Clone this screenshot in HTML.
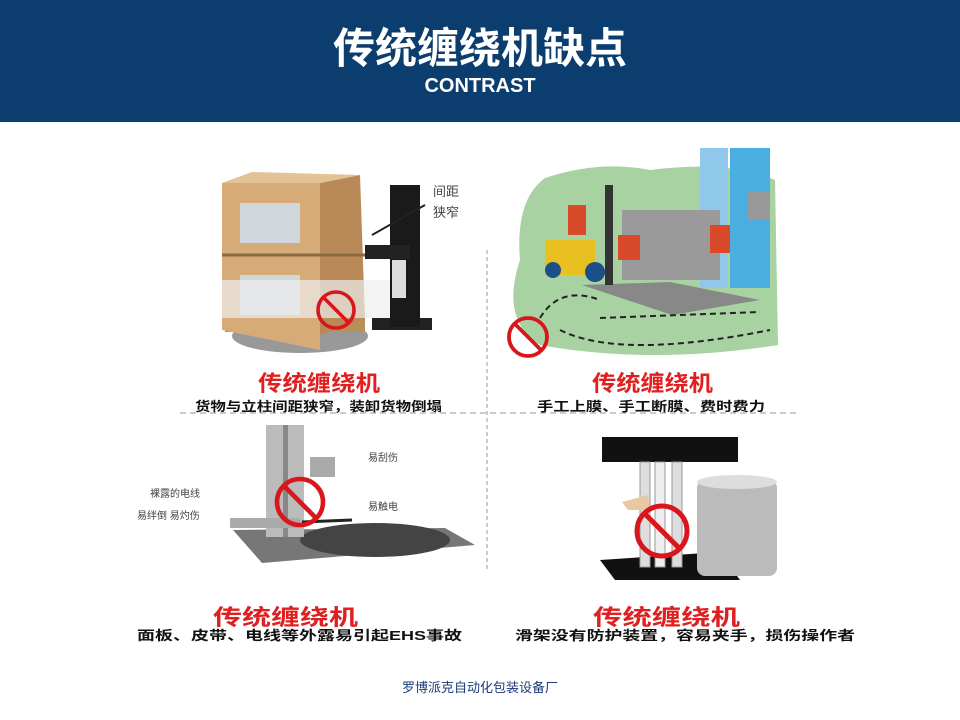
<!DOCTYPE html>
<html><head><meta charset="utf-8"><style>
html,body{margin:0;padding:0;background:#fff;}
body{width:960px;height:720px;position:relative;overflow:hidden;font-family:"Liberation Sans","Noto Sans CJK SC",sans-serif;}
.hdr{position:absolute;left:0;top:0;width:960px;height:122px;background:#0c3d6f;}
.t{position:absolute;left:0;width:960px;text-align:center;color:#fff;}
</style></head><body>
<div class="hdr"></div>
<div class="t" style="top:15px;font-size:42px;font-weight:bold;">传统缠绕机缺点</div>
<div class="t" style="top:75px;font-size:20px;font-weight:bold;">CONTRAST</div>
<svg width="960" height="720" style="position:absolute;left:0;top:0" font-family="Liberation Sans, Noto Sans CJK SC, sans-serif">
<defs>
<g id="no"><circle r="1" fill="none" stroke="#d8161c" stroke-width="0.2"/><line x1="-0.7" y1="-0.7" x2="0.7" y2="0.7" stroke="#d8161c" stroke-width="0.2"/></g>
</defs>
<line x1="487" y1="250" x2="487" y2="570" stroke="#999" stroke-dasharray="4,3"/>
<line x1="180" y1="413" x2="800" y2="413" stroke="#999" stroke-dasharray="6,4"/>
<!-- TL -->
<ellipse cx="300" cy="336" rx="68" ry="17" fill="#999"/>
<rect x="372" y="318" width="60" height="12" fill="#222"/>
<rect x="225" y="318" width="140" height="14" fill="#b8905c"/>
<polygon points="222,183 320,183 320,350 222,330" fill="#d7ab78"/>
<polygon points="320,183 360,175 365,320 320,335" fill="#b98a57"/>
<polygon points="222,183 252,172 360,175 320,183" fill="#e3c295"/>
<rect x="240" y="203" width="60" height="40" fill="#cfd6dc"/>
<rect x="240" y="275" width="60" height="40" fill="#cfd6dc"/>
<line x1="222" y1="255" x2="365" y2="255" stroke="#8a6a40" stroke-width="3"/>
<rect x="222" y="280" width="175" height="38" fill="#eee" opacity="0.7"/>
<rect x="390" y="185" width="30" height="142" fill="#1a1a1a"/>
<rect x="365" y="245" width="45" height="14" fill="#222"/>
<rect x="392" y="260" width="14" height="38" fill="#ddd"/>
<line x1="425" y1="205" x2="372" y2="235" stroke="#222" stroke-width="2"/>
<text x="433" y="196" font-size="13" fill="#444">间距</text>
<text x="433" y="217" font-size="13" fill="#444">狭窄</text>
<use href="#no" transform="translate(336,310) scale(18)"/>
<text x="258" y="391" font-size="22" font-weight="bold" fill="#e02020" textLength="122" lengthAdjust="spacingAndGlyphs">传统缠绕机</text>
<text x="195" y="411" font-size="13" font-weight="bold" fill="#111" textLength="247" lengthAdjust="spacingAndGlyphs">货物与立柱间距狭窄，装卸货物倒塌</text>
<!-- TR -->
<path d="M545,178 Q600,160 650,170 Q730,160 775,180 L778,345 Q650,365 540,345 Q500,320 520,260 Q515,200 545,178Z" fill="#a8d2a2"/>
<polygon points="582,285 670,282 760,300 672,315" fill="#888"/>
<rect x="700" y="148" width="28" height="140" fill="#8fc8ea"/>
<rect x="730" y="148" width="40" height="140" fill="#4aaee0"/>
<rect x="748" y="192" width="22" height="28" fill="#999"/>
<rect x="545" y="240" width="50" height="35" fill="#e8c020"/>
<circle cx="553" cy="270" r="8" fill="#1c4e8a"/>
<circle cx="595" cy="272" r="10" fill="#1c4e8a"/>
<rect x="605" y="185" width="8" height="100" fill="#333"/>
<rect x="622" y="210" width="98" height="70" fill="#9a9a9a"/>
<rect x="568" y="205" width="18" height="30" fill="#d94a2a"/>
<rect x="618" y="235" width="22" height="25" fill="#d94a2a"/>
<rect x="710" y="225" width="20" height="28" fill="#d94a2a"/>
<path d="M540,318 Q560,285 600,300 M560,330 Q620,360 770,330 M600,318 L760,312" fill="none" stroke="#222" stroke-width="2" stroke-dasharray="6,4"/>
<use href="#no" transform="translate(528,337) scale(19)"/>
<text x="592" y="391" font-size="22" font-weight="bold" fill="#e02020" textLength="121" lengthAdjust="spacingAndGlyphs">传统缠绕机</text>
<text x="537" y="411" font-size="13" font-weight="bold" fill="#111" textLength="228" lengthAdjust="spacingAndGlyphs">手工上膜、手工断膜、费时费力</text>
<!-- BL -->
<polygon points="233,530 445,528 475,545 262,563" fill="#777"/>
<ellipse cx="375" cy="540" rx="75" ry="17" fill="#444"/>
<rect x="266" y="425" width="38" height="112" fill="#bbb"/>
<rect x="283" y="425" width="5" height="112" fill="#888"/>
<rect x="310" y="457" width="25" height="20" fill="#aaa"/>
<rect x="230" y="518" width="70" height="10" fill="#aaa"/>
<line x1="302" y1="522" x2="352" y2="520" stroke="#222" stroke-width="3"/>
<text x="368" y="461" font-size="10" fill="#444">易刮伤</text>
<text x="150" y="497" font-size="10" fill="#444">裸露的电线</text>
<text x="137" y="519" font-size="10" fill="#444">易绊倒 易灼伤</text>
<text x="368" y="510" font-size="10" fill="#444">易触电</text>
<use href="#no" transform="translate(300,502) scale(23)"/>
<text x="213" y="625" font-size="22" font-weight="bold" fill="#e02020" textLength="145" lengthAdjust="spacingAndGlyphs">传统缠绕机</text>
<text x="137" y="640" font-size="13" font-weight="bold" fill="#111" textLength="325" lengthAdjust="spacingAndGlyphs">面板、皮带、电线等外露易引起EHS事故</text>
<!-- BR -->
<polygon points="600,560 720,552 740,580 615,580" fill="#111"/>
<rect x="602" y="437" width="136" height="25" fill="#111"/>
<rect x="640" y="462" width="10" height="105" fill="#ddd" stroke="#999"/>
<rect x="655" y="462" width="10" height="105" fill="#eee" stroke="#999"/>
<rect x="672" y="462" width="10" height="105" fill="#ddd" stroke="#999"/>
<rect x="697" y="480" width="80" height="96" rx="8" fill="#bbb"/>
<ellipse cx="737" cy="482" rx="40" ry="7" fill="#ddd"/>
<polygon points="622,502 648,495 650,510 628,510" fill="#e8c8a0"/>
<use href="#no" transform="translate(662,531) scale(25)"/>
<text x="593" y="625" font-size="22" font-weight="bold" fill="#e02020" textLength="147" lengthAdjust="spacingAndGlyphs">传统缠绕机</text>
<text x="515" y="640" font-size="13" font-weight="bold" fill="#111" textLength="340" lengthAdjust="spacingAndGlyphs">滑架没有防护装置，容易夹手，损伤操作者</text>
<text x="480" y="692" font-size="13" fill="#1a3a7a" text-anchor="middle">罗博派克自动化包装设备厂</text>
</svg>
</body></html>
